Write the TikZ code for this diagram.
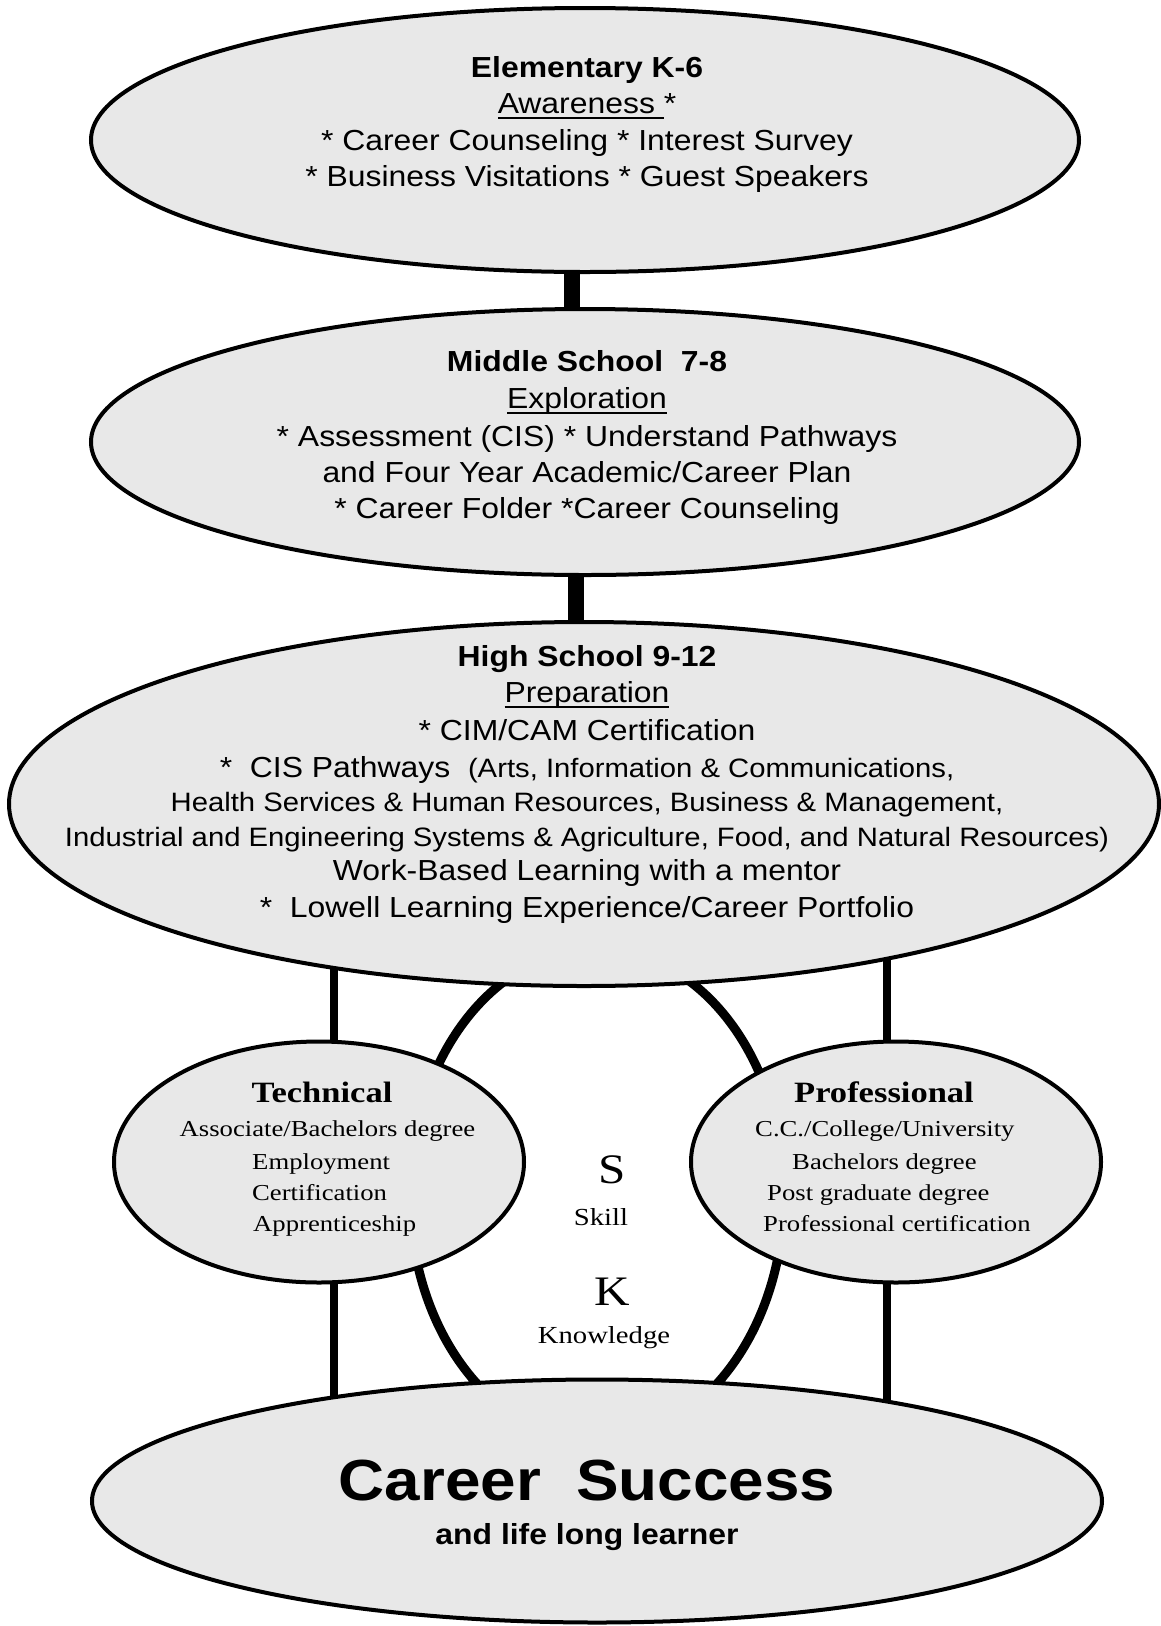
\documentclass[tikz,border=0pt]{standalone}
\usepackage{fontspec}
\setmainfont[FakeStretch=1.1]{Liberation Sans}
\newfontfamily\palfont[FakeStretch=1.17]{Liberation Serif}
\usetikzlibrary{shapes.geometric,backgrounds}
\definecolor{ovalfill}{RGB}{232,232,232}
\newcommand\myul[1]{\setbox0\hbox{#1}\rlap{\rule[-5.5pt]{\wd0}{2pt}}\box0}
\begin{document}
\begin{tikzpicture}[x=1pt,y=-1pt,
  oval/.style={ellipse,draw=black,line width=4pt,fill=ovalfill,inner sep=0pt},
  txt/.style={anchor=base,inner sep=0pt,font=\fontsize{29}{36}\selectfont},
  txtb/.style={anchor=base,inner sep=0pt,font=\fontsize{29}{36}\selectfont\bfseries},
  smalltxt/.style={anchor=base,inner sep=0pt,font=\fontsize{26.6}{34}\selectfont},
  ser/.style={anchor=base,inner sep=0pt,font=\palfont\fontsize{22.8}{30}\selectfont},
  serb/.style={anchor=base,inner sep=0pt,font=\palfont\fontsize{29.5}{34}\selectfont\bfseries},
  serbig/.style={anchor=base,inner sep=0pt,font=\palfont\fontsize{42}{46}\selectfont},
  sermid/.style={anchor=base,inner sep=0pt,font=\palfont\fontsize{24.5}{30}\selectfont},
  thickcon/.style={line width=16pt},
  sideline/.style={line width=8pt},
  ring/.style={ellipse,draw=black,line width=9pt,inner sep=0pt}
]
\useasboundingbox (0,0) rectangle (1161,1626);
% central ring
\node[ring, minimum width=374, minimum height=492] (ring) at (597,1195) {};
% ovals
\node[oval, minimum width=988, minimum height=264] (elem) at (585,140) {};
\node[oval, minimum width=988, minimum height=266] (mid) at (585,442) {};
\node[oval, minimum width=1150, minimum height=364] (high) at (584,804) {};
\node[oval, minimum width=410, minimum height=241] (tech) at (319,1162) {};
\node[oval, minimum width=410, minimum height=241] (prof) at (896,1162) {};
\node[oval, minimum width=1010, minimum height=243] (succ) at (597,1501) {};
% connectors
\coordinate (c1) at (572,0);
\coordinate (c2) at (576,0);
\coordinate (cl) at (334,0);
\coordinate (cr) at (887,0);
\begin{scope}[on background layer]
\draw[thickcon] (c1 |- elem.center) -- (c1 |- mid.center);
\draw[thickcon] (c2 |- mid.center) -- (c2 |- high.center);
\draw[sideline] (cl |- high.center) -- (cl |- tech.center);
\draw[sideline] (cl |- tech.center) -- (cl |- succ.center);
\draw[sideline] (cr |- high.center) -- (cr |- prof.center);
\draw[sideline] (cr |- prof.center) -- (cr |- succ.center);
\end{scope}
% Elementary
\node[txtb] (e1) at (587,77) {Elementary K-6};
\node[txt] (e2) at (587,113) {\myul{Awareness\ }*};
\node[txt] (e3) at (587,150) {* Career Counseling * Interest Survey};
\node[txt] (e4) at (587,186) {* Business Visitations * Guest Speakers};
% Middle
\node[txtb] (m1) at (587,371) {Middle School\ \ 7-8};
\node[txt] (m2) at (587,408.5) {\myul{Exploration}};
\node[txt] (m3) at (587,446) {* Assessment (CIS) * Understand Pathways};
\node[txt] (m4) at (587,482) {and Four Year Academic/Career Plan};
\node[txt] (m5) at (587,518.5) {* Career Folder *Career Counseling};
% High school
\node[txtb] (h1) at (587,666.5) {High School 9-12};
\node[txt] (h2) at (587,702) {\myul{Preparation}};
\node[txt] (h3) at (587,740) {* CIM/CAM Certification};
\node[txt] (h4) at (587,777) {*\ \ CIS Pathways\ \ {\fontsize{26.6}{34}\selectfont (Arts, Information \& Communications,}};
\node[smalltxt] (h5) at (587,811.5) {Health Services \& Human Resources, Business \& Management,};
\node[smalltxt] (h6) at (587,846.5) {Industrial and Engineering Systems \& Agriculture, Food, and Natural Resources)};
\node[txt] (h7) at (587,880.5) {Work-Based Learning with a mentor};
\node[txt] (h8) at (587,917) {*\ \ Lowell Learning Experience/Career Portfolio};
% Technical
\node[serb] (techT) at (322,1102.7) {Technical};
\node[ser] (techA) at (327.5,1136.7) {Associate/Bachelors degree};
\node[ser, anchor=base west] (techE) at (252,1169) {Employment};
\node[ser, anchor=base west] (techC) at (252,1200.7) {Certification};
\node[ser, anchor=base west] (techP) at (253,1231.7) {Apprenticeship};
% Professional
\node[serb] (profT) at (884,1102.7) {Professional};
\node[ser, anchor=base west] (profA) at (755,1136.7) {C.C./College/University};
\node[ser, anchor=base west] (profB) at (792,1169) {Bachelors degree};
\node[ser, anchor=base west] (profC) at (767,1200.7) {Post graduate degree};
\node[ser, anchor=base west] (profD) at (763,1231.7) {Professional certification};
% S / K
\node[serbig] (S) at (612,1183) {S};
\node[sermid] (skill) at (601,1225) {Skill};
\node[serbig] (K) at (612.6,1305) {K};
\node[sermid] (know) at (604,1343) {Knowledge};
% Career success
\node[anchor=base,inner sep=0pt,font=\fontsize{58}{64}\selectfont\bfseries] (cs) at (587,1500) {Career\ \ Success};
\node[txtb] (cs2) at (587,1544) {and life long learner};
\end{tikzpicture}
\end{document}
